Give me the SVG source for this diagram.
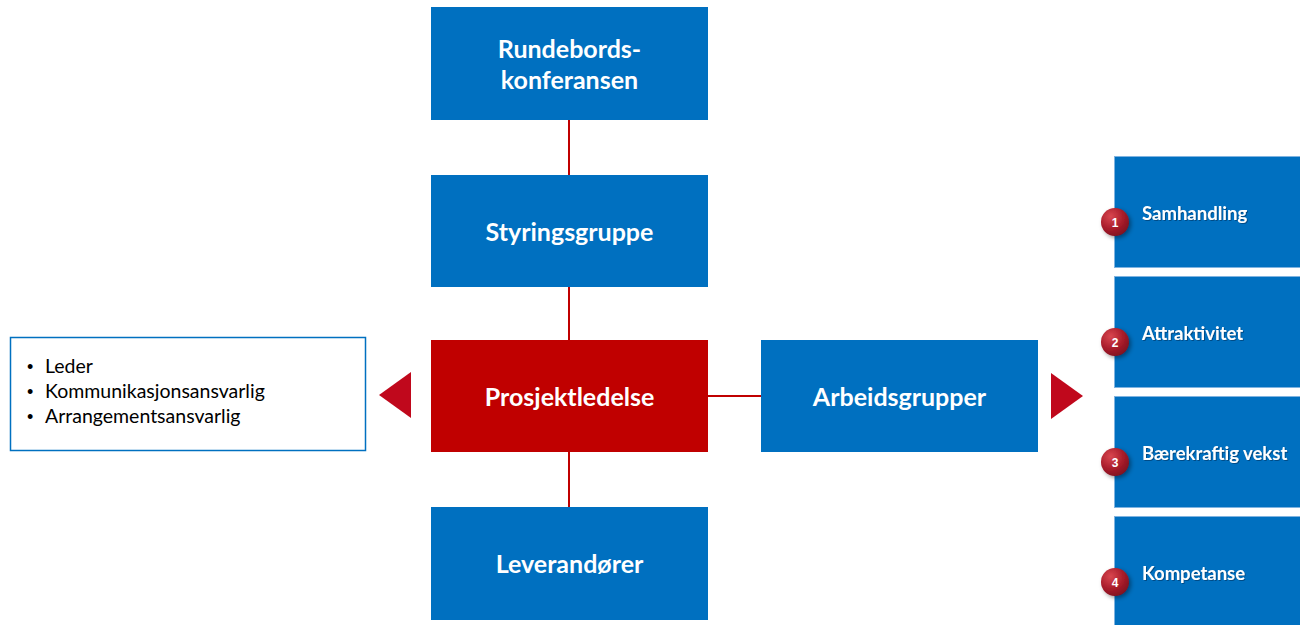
<svg xmlns="http://www.w3.org/2000/svg" width="1300" height="625" viewBox="0 0 1300 625">
<defs>
<radialGradient id="cg" cx="35%" cy="30%" r="75%">
<stop offset="0" stop-color="#d9464f"/>
<stop offset="0.6" stop-color="#a81c2a"/>
<stop offset="1" stop-color="#7f1020"/>
</radialGradient>
<filter id="sh" x="-50%" y="-50%" width="200%" height="200%">
<feDropShadow dx="2" dy="2" stdDeviation="2" flood-color="#000" flood-opacity="0.4"/>
</filter>
<filter id="tsh" x="-10%" y="-30%" width="120%" height="160%">
<feDropShadow dx="1" dy="1" stdDeviation="0.6" flood-color="#003060" flood-opacity="0.6"/>
</filter>
</defs>
<style>
.box{fill:#0070C0}
.red{fill:#C00000}
.lbl{font-family:"Lato","Open Sans","Liberation Sans",sans-serif;font-weight:bold;font-size:25px;fill:#fff;text-anchor:middle}
.sub{fill:#0070C0;stroke:#7fb3e0;stroke-width:1}
.slbl{font-family:"Lato","Open Sans","Liberation Sans",sans-serif;font-weight:bold;font-size:18.5px;fill:#fff}
.num{font-family:"Liberation Sans",Arial,sans-serif;font-weight:bold;font-size:12px;fill:#fff;text-anchor:middle}
.list{font-family:"Lato","Open Sans","Liberation Sans",sans-serif;font-size:19.5px;fill:#000}
.bul{font-family:"Liberation Sans",Arial,sans-serif;font-size:18px;fill:#000}
.conn{stroke:#C00000;stroke-width:2;fill:none}
.tri{fill:#C0081C}
</style>
<rect width="1300" height="625" fill="#fff"/>
<g id="connectors">
<line class="conn" x1="569" y1="120" x2="569" y2="175"/>
<line class="conn" x1="569" y1="287" x2="569" y2="340"/>
<line class="conn" x1="569" y1="452" x2="569" y2="507"/>
<line class="conn" x1="708" y1="396" x2="761" y2="396"/>
</g>
<g id="rundebords">
<rect class="box" x="431" y="7" width="277" height="113"/>
<text class="lbl" x="569.5" y="58">Rundebords-</text>
<text class="lbl" x="569.5" y="89">konferansen</text>
</g>
<g id="styringsgruppe">
<rect class="box" x="431" y="175" width="277" height="112"/>
<text class="lbl" x="569.5" y="241">Styringsgruppe</text>
</g>
<g id="prosjektledelse">
<rect class="red" x="431" y="340" width="277" height="112"/>
<text class="lbl" x="569.5" y="406">Prosjektledelse</text>
</g>
<g id="leverandorer">
<rect class="box" x="431" y="507" width="277" height="113"/>
<text class="lbl" x="569.5" y="573">Leverandører</text>
</g>
<g id="arbeidsgrupper">
<rect class="box" x="761" y="340" width="277" height="112"/>
<text class="lbl" x="899.5" y="406">Arbeidsgrupper</text>
</g>
<g id="roller">
<rect x="10.5" y="337.5" width="355" height="113" fill="#fff" stroke="#0070C0" stroke-width="1.5"/>
<text class="bul" x="27" y="373">•</text><text class="list" x="45" y="373">Leder</text>
<text class="bul" x="27" y="398">•</text><text class="list" x="45" y="398">Kommunikasjonsansvarlig</text>
<text class="bul" x="27" y="423">•</text><text class="list" x="45" y="423">Arrangementsansvarlig</text>
</g>
<g id="pil-venstre">
<polygon class="tri" points="379,395 411,372 411,418"/>
</g>
<g id="pil-hoyre">
<polygon class="tri" points="1083,396 1051,373 1051,419"/>
</g>
<g id="samhandling">
<rect class="sub" x="1114.5" y="156.5" width="190" height="111"/>
<text class="slbl" x="1142" y="220" filter="url(#tsh)">Samhandling</text>
<circle cx="1115" cy="222" r="14" fill="url(#cg)" filter="url(#sh)"/>
<text class="num" x="1115" y="226.5">1</text>
</g>
<g id="attraktivitet">
<rect class="sub" x="1114.5" y="276.5" width="190" height="111"/>
<text class="slbl" x="1142" y="340" filter="url(#tsh)">Attraktivitet</text>
<circle cx="1115" cy="342" r="14" fill="url(#cg)" filter="url(#sh)"/>
<text class="num" x="1115" y="346.5">2</text>
</g>
<g id="baerekraftig">
<rect class="sub" x="1114.5" y="396.5" width="190" height="111"/>
<text class="slbl" x="1142" y="460" filter="url(#tsh)">Bærekraftig vekst</text>
<circle cx="1115" cy="462" r="14" fill="url(#cg)" filter="url(#sh)"/>
<text class="num" x="1115" y="466.5">3</text>
</g>
<g id="kompetanse">
<rect class="sub" x="1114.5" y="516.5" width="190" height="115"/>
<text class="slbl" x="1142" y="580" filter="url(#tsh)">Kompetanse</text>
<circle cx="1115" cy="582" r="14" fill="url(#cg)" filter="url(#sh)"/>
<text class="num" x="1115" y="586.5">4</text>
</g>
</svg>
